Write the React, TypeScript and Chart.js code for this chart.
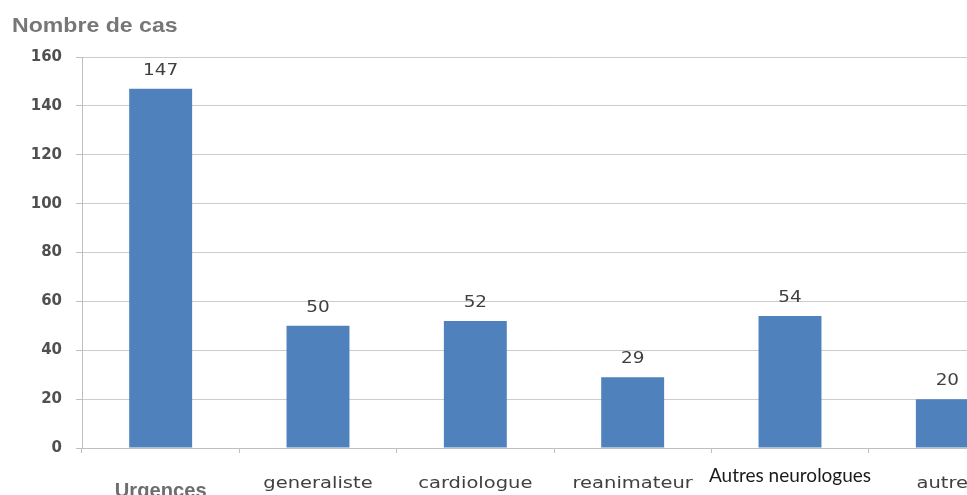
import React, { useEffect, useRef } from "react";
import { Chart, registerables } from "chart.js";

Chart.register(...registerables);

const categories = ["Urgences", "generaliste", "cardiologue", "reanimateur", "Autres neurologues", "autres"];
const values = [147, 50, 52, 29, 54, 20];
const yMin = 0;
const yMax = 160;
const yStep = 20;
const yTitle = "Nombre de cas";

const barColor = "#4F81BD";

type LabelStyle = { font: string; color: string; sx: number; dy: number };
const xLabelStyles: LabelStyle[] = [
  { font: 'bold 21px "Liberation Sans"', color: "#6e6e6e", sx: 0.96, dy: 49 },
  { font: '15px "DejaVu Sans"', color: "#404040", sx: 1.3, dy: 40 },
  { font: '15px "DejaVu Sans"', color: "#404040", sx: 1.3, dy: 40 },
  { font: '15px "DejaVu Sans"', color: "#404040", sx: 1.3, dy: 40 },
  { font: '19px "Lato"', color: "#1a1a1a", sx: 1.0, dy: 34 },
  { font: '15px "DejaVu Sans"', color: "#404040", sx: 1.3, dy: 40 },
];

function drawStretched(
  ctx: CanvasRenderingContext2D,
  text: string,
  x: number,
  y: number,
  font: string,
  color: string,
  sx: number,
  align: CanvasTextAlign = "center"
) {
  ctx.save();
  ctx.font = font;
  ctx.fillStyle = color;
  ctx.textAlign = align;
  ctx.textBaseline = "alphabetic";
  ctx.translate(x, y);
  ctx.scale(sx, 1);
  ctx.fillText(text, 0, 0);
  ctx.restore();
}

const textPlugin = {
  id: "textPlugin",
  afterDatasetsDraw(chart: any) {
    const ctx = chart.ctx as CanvasRenderingContext2D;
    const xs = chart.scales.x;
    const meta = chart.getDatasetMeta(0);
    meta.data.forEach((bar: any, i: number) => {
      drawStretched(ctx, String(values[i]), bar.x, bar.y - 14, '16px "DejaVu Sans"', "#404040", 1.15);
    });
    categories.forEach((c, i) => {
      const st = xLabelStyles[i];
      const px = xs.getPixelForValue(i);
      drawStretched(ctx, c, px, xs.top + st.dy, st.font, st.color, st.sx);
    });
    drawStretched(ctx, yTitle, 12, 32, 'bold 21px "Liberation Sans"', "#777777", 1.1, "left");
  },
};

export default function App() {
  const ref = useRef<HTMLCanvasElement | null>(null);
  useEffect(() => {
    if (!ref.current) return;
    const chart = new Chart(ref.current, {
      type: "bar",
      data: {
        labels: categories,
        datasets: [
          {
            data: values,
            backgroundColor: barColor,
            borderWidth: 0,
            barPercentage: 0.8,
            categoryPercentage: 0.5,
          },
        ],
      },
      options: {
        responsive: false,
        animation: false,
        layout: { padding: { left: 0, right: 4, top: 57, bottom: 0 } },
        plugins: { legend: { display: false }, tooltip: { enabled: false } },
        scales: {
          x: {
            grid: {
              display: true,
              drawOnChartArea: false,
              drawTicks: true,
              tickLength: 5,
              offset: true,
              color: "#bfbfbf",
            },
            border: { display: true, color: "#bfbfbf" },
            ticks: { display: false },
            afterFit: (s: any) => {
              s.height = 47;
            },
          },
          y: {
            min: yMin,
            max: yMax,
            ticks: {
              stepSize: yStep,
              padding: 14,
              color: "#505050",
              font: { family: "DejaVu Sans", size: 15, weight: "bold" },
            },
            grid: { color: "#cccccc", tickLength: 6, drawTicks: true, tickColor: "#bfbfbf" },
            border: { display: true, color: "#bfbfbf" },
            afterFit: (s: any) => {
              s.width = 82;
            },
          },
        },
      },
      plugins: [textPlugin],
    });
    return () => chart.destroy();
  }, []);

  return (
    <div style={{ position: "fixed", left: 0, top: 0, width: 967, height: 495, overflow: "hidden", background: "#fff" }}>
      <canvas ref={ref} width={1030} height={495} style={{ width: 1030, height: 495, display: "block" }} />
    </div>
  );
}
